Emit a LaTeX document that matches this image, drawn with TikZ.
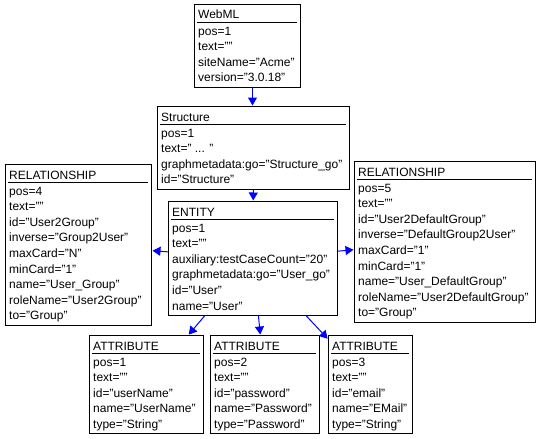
\documentclass[tikz,border=0pt]{standalone}
\usepackage{fontspec}
\setmainfont{Liberation Sans}
\usetikzlibrary{arrows.meta}
\tikzset{
  umlbox/.style={draw=black, line width=1pt, inner sep=0pt, rectangle},
  boxtext/.style={inner sep=0pt, anchor=base west, font=\fontsize{12}{14}\selectfont, text=black},
  titlerule/.style={draw=black, line width=1pt},
  conn/.style={draw=blue, line width=1pt, -{Triangle[length=8pt,width=9pt]}, shorten >=0.5pt},
}
\newcommand\umlbox[6]{%
  \node[boxtext] (#1-t) at (#2+4, -#3-15) {#5};
  \draw[titlerule] (#2+3, -#3-18) -- (#2+#4-3, -#3-18);
  \foreach \bl [count=\k] in {#6} {
    \node[boxtext] (#1-\k) at (#2+4, {-#3-31-15.6*(\k-1)}) {\bl};
    \xdef\nlines{\k}
  }
  \node[umlbox, anchor=north west, minimum width=#4, minimum height={36+15.6*(\nlines-1)}] (#1) at (#2,-#3) {};
}
\begin{document}
\begin{tikzpicture}[x=1pt,y=1pt]
\useasboundingbox (0,0) rectangle (544,-439);
\umlbox{webml}{194}{4}{106}{WebML}{pos=1, text="", siteName="Acme", version="3.0.18"}
\umlbox{structure}{157}{106}{192}{Structure}{pos=1, {text=" .{}.{}. "}, graphmetadata:go="Structure\_go", id="Structure"}
\umlbox{relL}{5}{164}{146}{RELATIONSHIP}{pos=4, text="", id="User2Group", inverse="Group2User", maxCard="N", minCard="1", name="User\_Group", roleName="User2Group", to="Group"}
\umlbox{entity}{168}{201}{169}{ENTITY}{pos=1, text="", auxiliary:testCaseCount="20", graphmetadata:go="User\_go", id="User", name="User"}
\umlbox{relR}{354}{161}{181}{RELATIONSHIP}{pos=5, text="", id="User2DefaultGroup", inverse="DefaultGroup2User", maxCard="1", minCard="1", name="User\_DefaultGroup", roleName="User2DefaultGroup", to="Group"}
\umlbox{attrA}{89}{335}{114}{ATTRIBUTE}{pos=1, text="", id="userName", name="UserName", type="String"}
\umlbox{attrB}{210}{335}{109}{ATTRIBUTE}{pos=2, text="", id="password", name="Password", type="Password"}
\umlbox{attrC}{328}{335}{84}{ATTRIBUTE}{pos=3, text="", id="email", name="EMail", type="String"}
\draw[conn] ([xshift=-1pt]webml.south -| structure.north) -- ([xshift=-1pt]structure.north);
\draw[conn] (structure) -- (entity);
\draw[conn] (entity) -- (relL);
\draw[conn] (entity) -- (relR);
\draw[conn] (entity) -- (attrA);
\draw[conn] (entity) -- (attrB);
\draw[conn] (entity) -- (attrC);
\end{tikzpicture}
\end{document}
